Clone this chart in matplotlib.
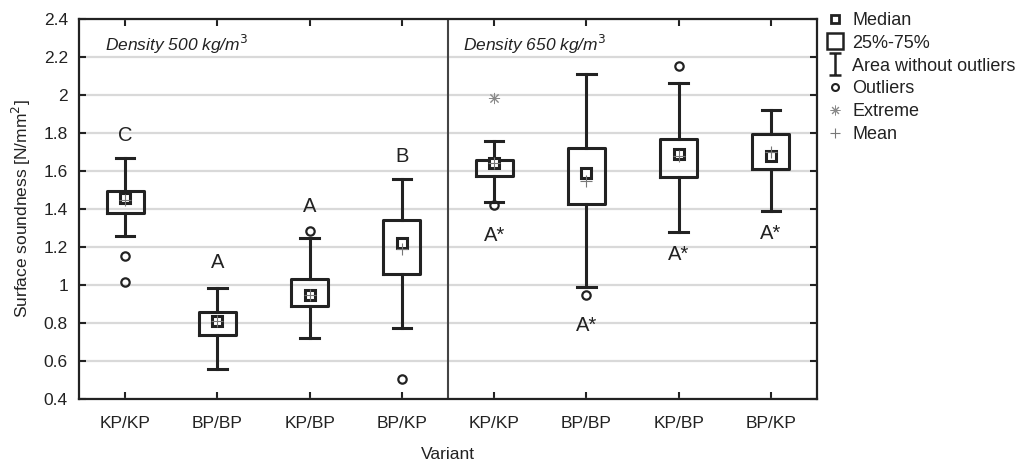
import matplotlib
matplotlib.use("Agg")
import matplotlib.pyplot as plt
from matplotlib.lines import Line2D
from matplotlib.path import Path

plt.rcParams['font.family'] = ['Liberation Sans', 'DejaVu Sans']

# ---- data ----
categories = ["KP/KP", "BP/BP", "KP/BP", "BP/KP", "KP/KP", "BP/BP", "KP/BP", "BP/KP"]
medians = [1.46, 0.81, 0.95, 1.22, 1.64, 1.59, 1.69, 1.68]
means = [1.45, 0.81, 0.95, 1.19, 1.64, 1.55, 1.68, 1.70]
q1 = [1.38, 0.735, 0.89, 1.06, 1.574, 1.425, 1.567, 1.609]
q3 = [1.496, 0.858, 1.032, 1.342, 1.658, 1.721, 1.768, 1.793]
whisk_lo = [1.258, 0.556, 0.719, 0.775, 1.439, 0.988, 1.279, 1.389]
whisk_hi = [1.667, 0.983, 1.249, 1.556, 1.760, 2.111, 2.061, 1.919]
outliers = [[1.154, 1.017], [], [1.284], [0.504], [1.421], [0.946], [2.153], []]
extremes = [[], [], [], [], [1.983], [], [], []]
letters = ["C", "A", "A", "B", "A*", "A*", "A*", "A*"]
letter_y = [1.76, 1.088, 1.386, 1.649, 1.233, 0.759, 1.132, 1.240]
panel_titles = ["Density 500 kg/m$^3$", "Density 650 kg/m$^3$"]
yticks = [0.4, 0.6, 0.8, 1.0, 1.2, 1.4, 1.6, 1.8, 2.0, 2.2, 2.4]

dark = "#222222"
gray = "#777777"

fig = plt.figure(figsize=(10.19, 4.67), dpi=100)
ax = fig.add_axes([79 / 1019, 1 - 399 / 467, (817 - 79) / 1019, (399 - 19) / 467])

positions = list(range(len(categories)))
stats = []
for i in positions:
    stats.append(dict(med=medians[i], q1=q1[i], q3=q3[i], whislo=whisk_lo[i],
                      whishi=whisk_hi[i], mean=means[i], fliers=outliers[i]))

ax.bxp(stats, positions=positions, widths=0.4, capwidths=0.2,
       showmeans=True, patch_artist=False,
       boxprops=dict(color=dark, linewidth=2.2),
       whiskerprops=dict(color=dark, linewidth=2.2),
       capprops=dict(color=dark, linewidth=2.2),
       medianprops=dict(linewidth=0),
       meanprops=dict(marker='+', markeredgecolor=gray, markersize=8,
                      markeredgewidth=0.8, zorder=6),
       flierprops=dict(marker='o', markerfacecolor='none', markeredgecolor=dark,
                       markersize=6, markeredgewidth=1.6))

ax.plot(positions, medians, 's', mfc='white', mec=dark, ms=7, mew=2.2,
        ls='none', zorder=5)

for i in positions:
    if extremes[i]:
        ax.plot([i] * len(extremes[i]), extremes[i], marker=(8, 2, 0), ls='none',
                color="#8a8a8a", ms=8, mew=0.7)
    ax.text(i, letter_y[i], letters[i], ha='center', va='baseline',
            fontsize=14.5, color=dark)

ax.axvline(3.5, color="#444444", lw=1.5)

ax.text(0.035, 0.915, panel_titles[0], transform=ax.transAxes, fontsize=12.5,
        style='italic', color=dark, ha='left', va='baseline')
ax.text(0.520, 0.915, panel_titles[1], transform=ax.transAxes, fontsize=12.5,
        style='italic', color=dark, ha='left', va='baseline')

ax.set_xlim(-0.5, 7.5)
ax.set_ylim(0.4, 2.4)
ax.set_xticks(positions)
ax.set_xticklabels(categories, fontsize=12.5, color=dark)
ax.set_yticks(yticks)
ax.set_yticklabels([f"{v:g}" for v in yticks], fontsize=12.5, color=dark)
ax.tick_params(direction='in', length=5, width=1.5, color=dark,
               top=True, right=True, bottom=True, left=True, pad=8)
ax.tick_params(axis='x', pad=12)
ax.yaxis.grid(True, color="#d9d9d9", lw=1.6)
ax.set_axisbelow(True)
for s in ax.spines.values():
    s.set_linewidth(1.6)
    s.set_color(dark)

ax.set_xlabel("Variant", fontsize=12.5, color=dark, labelpad=12)
ax.set_ylabel("Surface soundness [N/mm$^2$]", fontsize=12.5, color=dark, labelpad=8)

ibeam = Path([(-0.5, 1), (0.5, 1), (0, 1), (0, -1), (-0.5, -1), (0.5, -1)],
             [Path.MOVETO, Path.LINETO, Path.MOVETO, Path.LINETO, Path.MOVETO, Path.LINETO])
handles = [
    Line2D([], [], marker='s', ls='none', mfc='white', mec=dark, ms=6, mew=2),
    Line2D([], [], marker='s', ls='none', mfc='none', mec=dark, ms=12, mew=1.8),
    Line2D([], [], marker=ibeam, ls='none', mfc='none', mec=dark, ms=16, mew=1.8),
    Line2D([], [], marker='o', ls='none', mfc='none', mec=dark, ms=5, mew=1.5),
    Line2D([], [], marker=(8, 2, 0), ls='none', color="#8a8a8a", ms=7, mew=0.7),
    Line2D([], [], marker='+', ls='none', color=gray, ms=7, mew=0.8),
]
labels = ["Median", "25%-75%", "Area without outliers", "Outliers", "Extreme", "Mean"]
fig.legend(handles, labels, loc='upper left', bbox_to_anchor=(826 / 1019, 1 - 12 / 467),
           frameon=False, fontsize=13, handlelength=1.0, handletextpad=0.45,
           labelspacing=0.32, borderaxespad=0, borderpad=0, labelcolor=dark)

fig.savefig("out.png", dpi=100)
